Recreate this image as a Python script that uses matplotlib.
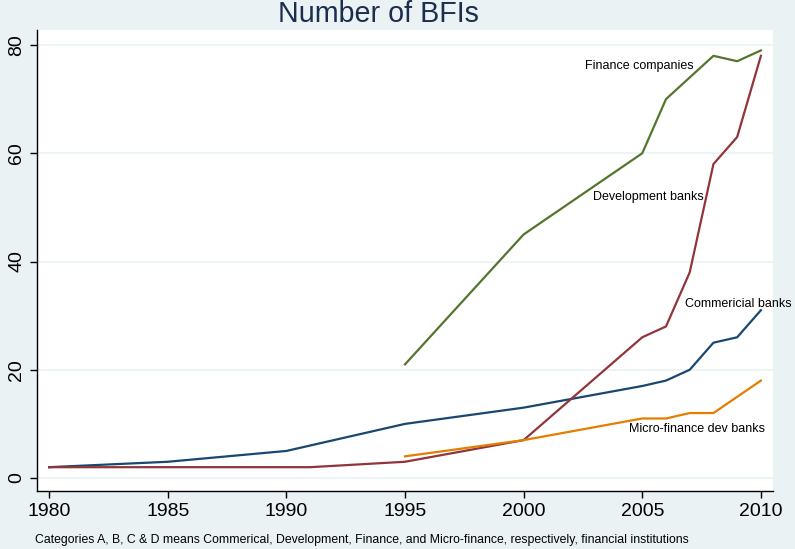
import matplotlib
matplotlib.use('Agg')
import matplotlib.pyplot as plt

plt.rcParams['font.family'] = ['Liberation Sans', 'DejaVu Sans']

# Data
comm_years = [1980, 1981, 1985, 1990, 1995, 2000, 2005, 2006, 2007, 2008, 2009, 2010]
comm_vals = [2, 2.2, 3, 5, 10, 13, 17, 18, 20, 25, 26, 31]

dev_years = [1980, 1985, 1990, 1991, 1995, 2000, 2005, 2006, 2007, 2008, 2009, 2010]
dev_vals = [2, 2, 2, 2, 3, 7, 26, 28, 38, 58, 63, 78]

fin_years = [1995, 2000, 2005, 2006, 2007, 2008, 2009, 2010]
fin_vals = [21, 45, 60, 70, 74, 78, 77, 79]

micro_years = [1995, 2000, 2005, 2006, 2007, 2008, 2009, 2010]
micro_vals = [4, 7, 11, 11, 12, 12, 15, 18]

x_ticks = [1980, 1985, 1990, 1995, 2000, 2005, 2010]
y_ticks = [0, 20, 40, 60, 80]

bg = '#eaf2f3'

fig = plt.figure(figsize=(7.95, 5.49), dpi=100, facecolor=bg)
ax = fig.add_axes([37 / 795, 58 / 549, 736 / 795, 461 / 549])
ax.set_facecolor('white')

for y in y_ticks:
    ax.axhline(y, color=bg, lw=1.2, zorder=0)

ax.plot(comm_years, comm_vals, color='#1a476f', lw=1.6)
ax.plot(dev_years, dev_vals, color='#90353b', lw=1.6)
ax.plot(fin_years, fin_vals, color='#55752f', lw=1.6)
ax.plot(micro_years, micro_vals, color='#e37e00', lw=1.6)

# Line labels
ax.text(2007.15, 76.1, 'Finance companies', ha='right', va='center', fontsize=9)
ax.text(2007.6, 51.9, 'Development banks', ha='right', va='center', fontsize=9)
ax.text(2006.8, 32.1, 'Commericial banks', ha='left', va='center', fontsize=9, clip_on=False)
ax.text(2007.3, 9.05, 'Micro-finance dev banks', ha='center', va='center', fontsize=9)

ax.set_xlim(1979.49, 2010.51)
ax.set_ylim(-2.4, 82.77)
ax.set_xticks(x_ticks)
ax.set_yticks(y_ticks)
ax.tick_params(axis='both', labelsize=14, length=5, width=1, direction='out')
plt.setp(ax.get_yticklabels(), rotation=90, va='center')

for s in ['top', 'right']:
    ax.spines[s].set_visible(False)
for s in ['left', 'bottom']:
    ax.spines[s].set_linewidth(1)

fig.text(0.476, 1 - 14 / 549, 'Number of BFIs', ha='center', va='center',
         fontsize=20.6, color='#1c2e50')
fig.text(35 / 795, 1 - 540 / 549,
         'Categories A, B, C & D means Commerical, Development, Finance, and Micro-finance, respectively, financial institutions',
         ha='left', va='center', fontsize=8.8)

fig.savefig('out.png', dpi=100, facecolor=bg)
